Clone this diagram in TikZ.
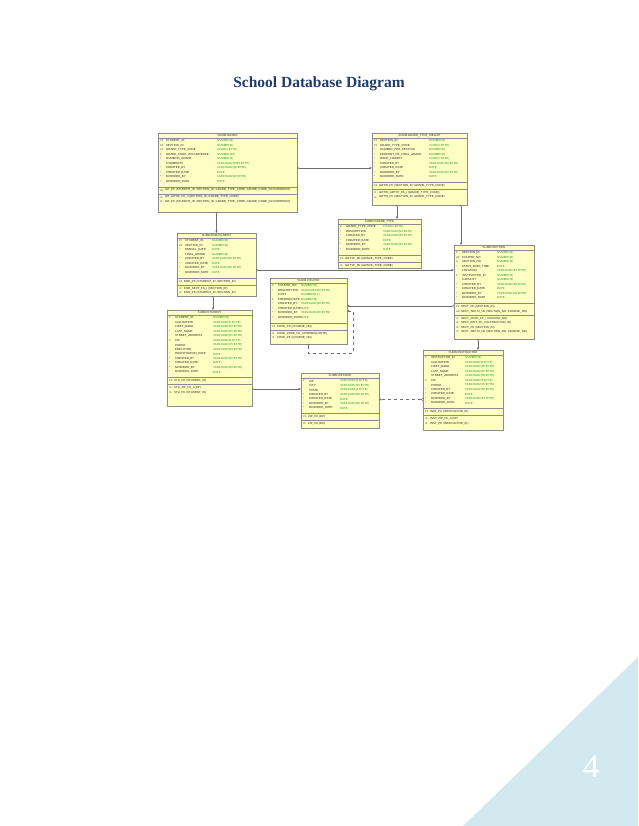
\documentclass[tikz,border=0pt]{standalone}
\usepackage{fontspec}
\setmainfont{Liberation Serif}
\setsansfont{Liberation Sans}
\usepackage{tikz}
\usetikzlibrary{arrows.meta}

\definecolor{boxfill}{RGB}{255,255,196}
\definecolor{boxline}{RGB}{140,140,140}
\definecolor{typegreen}{RGB}{40,150,40}
\definecolor{titleblue}{RGB}{35,60,105}
\definecolor{cornerblue}{RGB}{211,233,240}
\definecolor{linkgray}{RGB}{110,110,110}

% #1 name, #2 position, #3 width, #4 height, #5 title, #6 type column
% #7 columns, #8 keys, #9 indexes
\newcommand{\dbtable}[9]{%
  \node[dbbox, minimum width=#3pt, minimum height=#4pt] (#1) at #2 {};
  \node[dbhead] at ([yshift=-2.7pt]#1.north) {SUMM.#5};
  \draw[dbrule] ([yshift=-5.4pt]#1.north west) -- ([yshift=-5.4pt]#1.north east);
  \foreach \k/\c/\t [count=\i] in {#7} {
    \node[dbkey] at ([xshift=2pt, yshift={-(3.5+4.5*\i)}]#1.north west) {\k};
    \node[dbtext] at ([xshift=8pt, yshift={-(3.5+4.5*\i)}]#1.north west) {\c};
    \node[dbtype] at ([xshift=#6, yshift={-(3.5+4.5*\i)}]#1.north west) {\t};
    \xdef\nrows{\i}
  }
  \pgfmathsetmacro\sepa{9+4.5*\nrows}
  \draw[dbrule] ([yshift=-\sepa]#1.north west) -- ([yshift=-\sepa]#1.north east);
  \foreach \k/\c [count=\i] in {#8} {
    \node[dbkey] at ([xshift=2pt, yshift={-(\sepa+4.5*\i-1.25)}]#1.north west) {\k};
    \node[dbtext] at ([xshift=7pt, yshift={-(\sepa+4.5*\i-1.25)}]#1.north west) {\c};
    \xdef\npk{\i}
  }
  \pgfmathsetmacro\sepb{\sepa+4.5*\npk+2.5}
  \draw[dbrule] ([yshift=-\sepb]#1.north west) -- ([yshift=-\sepb]#1.north east);
  \foreach \k/\c [count=\i] in {#9} {
    \node[dbkey] at ([xshift=2pt, yshift={-(\sepb+4.5*\i-1.25)}]#1.north west) {\k};
    \node[dbtext] at ([xshift=7pt, yshift={-(\sepb+4.5*\i-1.25)}]#1.north west) {\c};
  }
}

\begin{document}
\begin{tikzpicture}[x = 1pt, y = -1pt,
    dbbox/.style = {draw = boxline, fill = boxfill, line width = 0.5pt, anchor = north west,
                    inner sep = 0pt, outer sep = 0pt},
    dbhead/.style = {inner sep = 0pt, text = black!80, font = \sffamily\fontsize{2.9}{3}\selectfont},
    dbrule/.style = {draw = boxline, line width = 0.4pt},
    dbkey/.style = {anchor = west, inner sep = 0pt, text = black!75, font = \sffamily\fontsize{2.6}{3}\selectfont},
    dbtext/.style = {anchor = west, inner sep = 0pt, text = black!85, font = \sffamily\fontsize{2.9}{3}\selectfont},
    dbtype/.style = {anchor = west, inner sep = 0pt, text = typegreen, font = \sffamily\fontsize{2.9}{3}\selectfont},
    fk/.style = {draw = linkgray, line width = 0.5pt,
                 arrows = {Straight Barb[reversed, length=1.4pt, width=2.6pt]-Latex[length=2.4pt, width=2.4pt]}}]
  \useasboundingbox (0,0) rectangle (638,826);
  \fill[white] (0,0) rectangle (638,826);
  \fill[cornerblue] (638,657) -- (638,826) -- (463,826) -- cycle;
  \node[text = white, font = \fontsize{33}{36}\selectfont] (pagenum) at (591,767) {4};
  \node[text = titleblue, font = \bfseries\fontsize{15.5}{17}\selectfont] (title) at (319,84) {School Database Diagram};

  \dbtable{grade}{(158,133)}{139}{79}{GRADE}{59}{
    PF/STUDENT\_ID/NUMBER(8), PF/SECTION\_ID/NUMBER(8), PF/GRADE\_TYPE\_CODE/CHAR(2 BYTE),
    P/GRADE\_CODE\_OCCURRENCE/NUMBER(38), */NUMERIC\_GRADE/NUMBER(3), {}/COMMENTS/VARCHAR2(2000 BYTE),
    */CREATED\_BY/VARCHAR2(30 BYTE), */CREATED\_DATE/DATE, */MODIFIED\_BY/VARCHAR2(30 BYTE),
    */MODIFIED\_DATE/DATE}{
    PK/{GR\_PK (STUDENT\_ID, SECTION\_ID, GRADE\_TYPE\_CODE, GRADE\_CODE\_OCCURRENCE)}}{
    IX/{GR\_GRTW\_FK\_I (SECTION\_ID, GRADE\_TYPE\_CODE)},
    IX/{GR\_PK (STUDENT\_ID, SECTION\_ID, GRADE\_TYPE\_CODE, GRADE\_CODE\_OCCURRENCE)}}

  \dbtable{grtw}{(372,133)}{95}{72}{GRADE\_TYPE\_WEIGHT}{57}{
    PF/SECTION\_ID/NUMBER(8), PF/GRADE\_TYPE\_CODE/CHAR(2 BYTE), */NUMBER\_PER\_SECTION/NUMBER(3),
    */PERCENT\_OF\_FINAL\_GRADE/NUMBER(3), */DROP\_LOWEST/CHAR(1 BYTE), */CREATED\_BY/VARCHAR2(30 BYTE),
    */CREATED\_DATE/DATE, */MODIFIED\_BY/VARCHAR2(30 BYTE), */MODIFIED\_DATE/DATE}{
    PK/{GRTW\_PK (SECTION\_ID, GRADE\_TYPE\_CODE)}}{
    IX/{GRTW\_GRTYP\_FK\_I (GRADE\_TYPE\_CODE)}, IX/{GRTW\_PK (SECTION\_ID, GRADE\_TYPE\_CODE)}}

  \dbtable{grtype}{(338,219)}{83}{49}{GRADE\_TYPE}{45}{
    P/GRADE\_TYPE\_CODE/CHAR(2 BYTE), */DESCRIPTION/VARCHAR2(50 BYTE), */CREATED\_BY/VARCHAR2(30 BYTE),
    */CREATED\_DATE/DATE, */MODIFIED\_BY/VARCHAR2(30 BYTE), */MODIFIED\_DATE/DATE}{
    PK/{GRTYP\_PK (GRADE\_TYPE\_CODE)}}{
    IX/{GRTYP\_PK (GRADE\_TYPE\_CODE)}}

  \dbtable{enroll}{(177,233)}{79}{63}{ENROLLMENT}{35}{
    PF/STUDENT\_ID/NUMBER(8), PF/SECTION\_ID/NUMBER(8), */ENROLL\_DATE/DATE, {}/FINAL\_GRADE/NUMBER(3),
    */CREATED\_BY/VARCHAR2(30 BYTE), */CREATED\_DATE/DATE, */MODIFIED\_BY/VARCHAR2(30 BYTE),
    */MODIFIED\_DATE/DATE}{
    PK/{ENR\_PK (STUDENT\_ID, SECTION\_ID)}}{
    IX/{ENR\_SECT\_FK\_I (SECTION\_ID)}, IX/{ENR\_PK (STUDENT\_ID, SECTION\_ID)}}

  \dbtable{section}{(454,245)}{80}{94}{SECTION}{43}{
    P/SECTION\_ID/NUMBER(8), UF/COURSE\_NO/NUMBER(8), U/SECTION\_NO/NUMBER(3), */START\_DATE\_TIME/DATE,
    {}/LOCATION/VARCHAR2(50 BYTE), F/INSTRUCTOR\_ID/NUMBER(8), {}/CAPACITY/NUMBER(3),
    */CREATED\_BY/VARCHAR2(30 BYTE), */CREATED\_DATE/DATE, */MODIFIED\_BY/VARCHAR2(30 BYTE),
    */MODIFIED\_DATE/DATE}{
    PK/{SECT\_PK (SECTION\_ID)}, UK/{SECT\_SECT2\_UK (SECTION\_NO, COURSE\_NO)}}{
    IX/{SECT\_CRSE\_FK\_I (COURSE\_NO)}, IX/{SECT\_INST\_FK\_I (INSTRUCTOR\_ID)},
    IX/{SECT\_PK (SECTION\_ID)}, IX/{SECT\_SECT2\_UK (SECTION\_NO, COURSE\_NO)}}

  \dbtable{course}{(270,278)}{77}{66}{COURSE}{31}{
    P/COURSE\_NO/NUMBER(8), */DESCRIPTION/VARCHAR2(50 BYTE), {}/COST/{NUMBER(9,2)}, F/PREREQUISITE/NUMBER(8),
    */CREATED\_BY/VARCHAR2(30 BYTE), */CREATED\_DATE/DATE, */MODIFIED\_BY/VARCHAR2(30 BYTE),
    */MODIFIED\_DATE/DATE}{
    PK/{CRSE\_PK (COURSE\_NO)}}{
    IX/{CRSE\_CRSE\_FK\_I (PREREQUISITE)}, IX/{CRSE\_PK (COURSE\_NO)}}

  \dbtable{student}{(167,310)}{85}{96}{STUDENT}{46}{
    P/STUDENT\_ID/NUMBER(8), {}/SALUTATION/VARCHAR2(5 BYTE), {}/FIRST\_NAME/VARCHAR2(25 BYTE),
    */LAST\_NAME/VARCHAR2(25 BYTE), {}/STREET\_ADDRESS/VARCHAR2(50 BYTE), F/ZIP/VARCHAR2(5 BYTE),
    {}/PHONE/VARCHAR2(15 BYTE), {}/EMPLOYER/VARCHAR2(50 BYTE), */REGISTRATION\_DATE/DATE,
    */CREATED\_BY/VARCHAR2(30 BYTE), */CREATED\_DATE/DATE, */MODIFIED\_BY/VARCHAR2(30 BYTE),
    */MODIFIED\_DATE/DATE}{
    PK/{STU\_PK (STUDENT\_ID)}}{
    IX/{STU\_ZIP\_FK\_I (ZIP)}, IX/{STU\_PK (STUDENT\_ID)}}

  \dbtable{zip}{(301,373)}{78}{55}{ZIPCODE}{39}{
    P/ZIP/VARCHAR2(5 BYTE), {}/CITY/VARCHAR2(25 BYTE), {}/STATE/VARCHAR2(2 BYTE),
    */CREATED\_BY/VARCHAR2(30 BYTE), */CREATED\_DATE/DATE, */MODIFIED\_BY/VARCHAR2(30 BYTE),
    */MODIFIED\_DATE/DATE}{
    PK/{ZIP\_PK (ZIP)}}{
    IX/{ZIP\_PK (ZIP)}}

  \dbtable{instructor}{(423,350)}{80}{80}{INSTRUCTOR}{42}{
    P/INSTRUCTOR\_ID/NUMBER(8), {}/SALUTATION/VARCHAR2(5 BYTE), {}/FIRST\_NAME/VARCHAR2(25 BYTE),
    {}/LAST\_NAME/VARCHAR2(25 BYTE), {}/STREET\_ADDRESS/VARCHAR2(50 BYTE), F/ZIP/VARCHAR2(5 BYTE),
    {}/PHONE/VARCHAR2(15 BYTE), */CREATED\_BY/VARCHAR2(30 BYTE), */CREATED\_DATE/DATE,
    */MODIFIED\_BY/VARCHAR2(30 BYTE), */MODIFIED\_DATE/DATE}{
    PK/{INST\_PK (INSTRUCTOR\_ID)}}{
    IX/{INST\_ZIP\_FK\_I (ZIP)}, IX/{INST\_PK (INSTRUCTOR\_ID)}}

  % relations, child end first
  \coordinate (c1) at ([yshift=4.5pt]grade.east);
  \coordinate (c3) at ([xshift=-22.5pt]grtw.south);
  \coordinate (c4) at ([xshift=41.5pt]grtw.south);
  \coordinate (c5) at ([yshift=-5.5pt]enroll.east);
  \coordinate (c6) at ([xshift=-3.5pt]enroll.south);
  \coordinate (c7) at ([yshift=-14pt]section.west);
  \coordinate (c9) at ([xshift=-16pt]section.south);
  \coordinate (c10) at ([yshift=-31pt]student.east);
  \coordinate (c11) at ([yshift=-9.5pt]instructor.west);

  \draw[fk] (c1) -- (c1 -| grtw.west);
  \draw[fk] (enroll.north |- grade.south) -- (enroll.north);
  \draw[fk] (c3) -- (c3 |- grtype.north);
  \draw[fk] (c4) -- (c4 |- section.north);
  \draw[fk] (c5) -- (c5 -| section.west);
  \draw[fk] (c6) -- (c6 |- student.north);
  \draw[fk] (c7) -- (c7 -| course.east);
  \draw[fk, dashed] (course.south) -- ++(0,9) -| ([xshift=6pt]course.east) -- (course.east);
  \draw[fk] (c9) -- (c9 |- instructor.north);
  \draw[fk] (c10) -- (c10 -| zip.west);
  \draw[fk, dashed] (c11) -- (c11 -| zip.east);
\end{tikzpicture}
\end{document}
